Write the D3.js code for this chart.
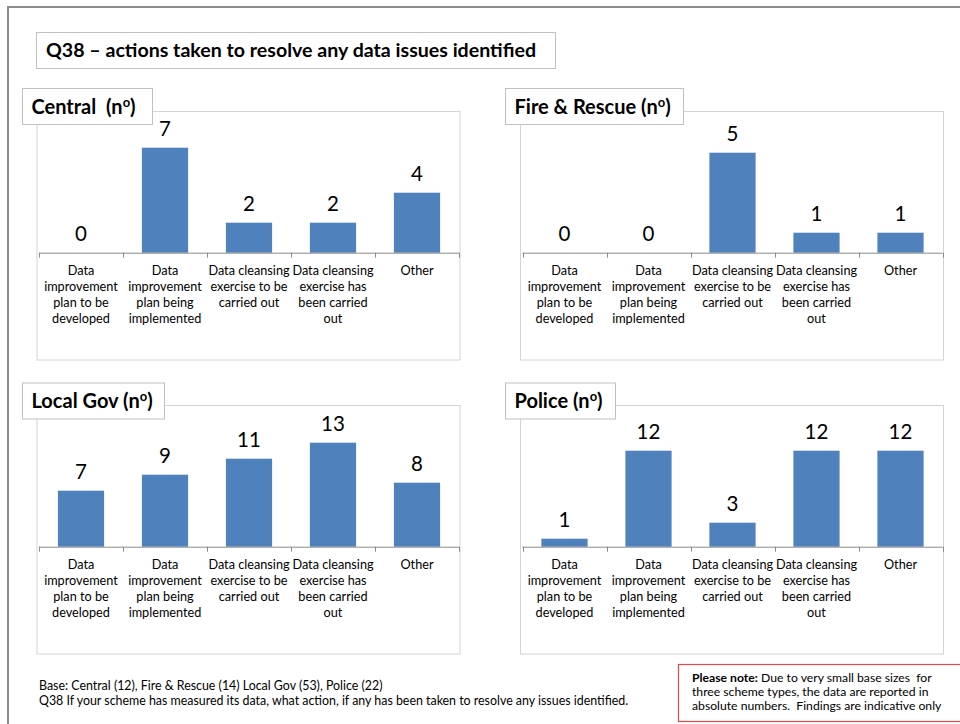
<!DOCTYPE html>
<html>
<head>
<meta charset="utf-8">
<script src="https://cdn.jsdelivr.net/npm/d3@7"></script>
<style>
  html, body { margin: 0; padding: 0; background: #fff; }
  svg { display: block; }
  text { white-space: pre; }
</style>
</head>
<body>
<svg id="chart" width="960" height="724"></svg>
<script>
// ---------- DATA ----------
const title = "Q38 \u2013 actions taken to resolve any data issues identified";
const categories = [
  "Data\nimprovement\nplan to be\ndeveloped",
  "Data\nimprovement\nplan being\nimplemented",
  "Data cleansing\nexercise to be\ncarried out",
  "Data cleansing\nexercise has\nbeen carried\nout",
  "Other"
];
const panelNames = ["Central  (n", "Fire & Rescue (n", "Local Gov (n", "Police (n"];
const centralValues = [0, 7, 2, 2, 4];
const fireValues = [0, 0, 5, 1, 1];
const localGovValues = [7, 9, 11, 13, 8];
const policeValues = [1, 12, 3, 12, 12];
const yMax = [8, 6, 15, 15];
const footnoteLines = [
  "Base: Central (12), Fire & Rescue (14) Local Gov (53), Police (22)",
  "Q38 If your scheme has measured its data, what action, if any has been taken to resolve any issues identified."
];
const noteBold = "Please note:";
const noteLines = [
  " Due to very small base sizes  for",
  "three scheme types, the data are reported in",
  "absolute numbers.  Findings are indicative only"
];

// ---------- LAYOUT ----------
const FONT = "Lato, 'Open Sans', sans-serif";
const BAR = "#4F81BD";
const svg = d3.select("#chart");

// outer frame
svg.append("rect").attr("x", 8).attr("y", 7).attr("width", 970).attr("height", 740)
  .attr("fill", "none").attr("stroke", "#8c8c8c").attr("stroke-width", 2);

// main title box
svg.append("rect").attr("x", 36.5).attr("y", 32.5).attr("width", 519).attr("height", 36)
  .attr("fill", "#fff").attr("stroke", "#c0c0c0");
svg.append("text").attr("x", 46).attr("y", 57).attr("font-family", FONT)
  .attr("font-weight", "bold").attr("font-size", 19.6).attr("fill", "#000").text(title);

const panels = [
  { values: centralValues, bx: 37, by: 111.5, tw: 130, tbx: 22.5, tby: 88.5 },
  { values: fireValues, bx: 520.5, by: 111.5, tw: 178, tbx: 505.5, tby: 88.5 },
  { values: localGovValues, bx: 37, by: 405.5, tw: 142, tbx: 22.5, tby: 383 },
  { values: policeValues, bx: 520.5, by: 405.5, tw: 110, tbx: 505.5, tby: 383 }
];
const BOXW = 423, BOXH = 248.5, TBH = 36;

panels.forEach((p, i) => {
  const g = svg.append("g");
  // chart box
  g.append("rect").attr("x", p.bx).attr("y", p.by).attr("width", BOXW).attr("height", BOXH)
    .attr("fill", "#fff").attr("stroke", "#d4d4d4");

  const axisY = p.by + 141.2;
  const plotTop = axisY - 120;
  const x0 = p.bx + 2, x1 = p.bx + 422;
  const x = d3.scaleBand().domain(d3.range(categories.length)).range([x0, x1])
    .paddingInner(0.45).paddingOuter(0.225);
  const y = d3.scaleLinear().domain([0, yMax[i]]).range([axisY, plotTop]);

  // bars
  g.selectAll("rect.bar").data(p.values).enter().append("rect").attr("class", "bar")
    .attr("x", (d, j) => x(j)).attr("width", x.bandwidth())
    .attr("y", d => y(d)).attr("height", d => axisY - y(d))
    .attr("fill", BAR);

  // value labels
  g.selectAll("text.val").data(p.values).enter().append("text").attr("class", "val")
    .attr("x", (d, j) => x(j) + x.bandwidth() / 2)
    .attr("y", d => y(d) - 12)
    .attr("text-anchor", "middle").attr("font-family", FONT).attr("font-size", 20.5)
    .attr("fill", "#000").text(d => d);

  // axis line + ticks at category boundaries
  const step = x.step();
  const bounds = d3.range(categories.length + 1).map(k => x0 + k * step);
  g.append("line").attr("x1", x0).attr("x2", x1).attr("y1", axisY + 0.5).attr("y2", axisY + 0.5)
    .attr("stroke", "#8a8a8a");
  g.selectAll("line.tick").data(bounds).enter().append("line").attr("class", "tick")
    .attr("x1", d => Math.round(d) + 0.5).attr("x2", d => Math.round(d) + 0.5)
    .attr("y1", axisY).attr("y2", axisY + 5).attr("stroke", "#8a8a8a");

  // category labels
  categories.forEach((c, j) => {
    const t = g.append("text").attr("x", x(j) + x.bandwidth() / 2).attr("y", axisY + 22)
      .attr("text-anchor", "middle").attr("font-family", FONT).attr("font-size", 12.7)
      .attr("fill", "#000");
    c.split("\n").forEach((line, k) => {
      t.append("tspan").attr("x", x(j) + x.bandwidth() / 2).attr("dy", k === 0 ? 0 : 16).text(line);
    });
  });

  // panel title box
  g.append("rect").attr("x", p.tbx).attr("y", p.tby).attr("width", p.tw).attr("height", TBH)
    .attr("fill", "#fff").attr("stroke", "#c0c0c0");
  const tt = g.append("text").attr("x", p.tbx + 9).attr("y", p.tby + 25).attr("font-family", FONT)
    .attr("font-weight", "bold").attr("font-size", 20).attr("fill", "#000");
  tt.append("tspan").text(panelNames[i]);
  tt.append("tspan").attr("font-size", 13).attr("dy", -7).text("o");
  tt.append("tspan").attr("dy", 7).text(")");
});

// footnotes
footnoteLines.forEach((l, k) => {
  svg.append("text").attr("x", 39).attr("y", 690 + k * 15).attr("font-family", FONT)
    .attr("font-size", 12.4).attr("fill", "#000").text(l);
});

// note box
svg.append("rect").attr("x", 678.5).attr("y", 664.5).attr("width", 290).attr("height", 57)
  .attr("fill", "#fff").attr("stroke", "#e8474a").attr("stroke-width", 1.2);
noteLines.forEach((l, k) => {
  const t = svg.append("text").attr("x", 692).attr("y", 682 + k * 14).attr("font-family", FONT)
    .attr("font-size", 12.2).attr("fill", "#000");
  if (k === 0) t.append("tspan").attr("font-weight", "bold").text(noteBold);
  t.append("tspan").text(l);
});
</script>
</body>
</html>
